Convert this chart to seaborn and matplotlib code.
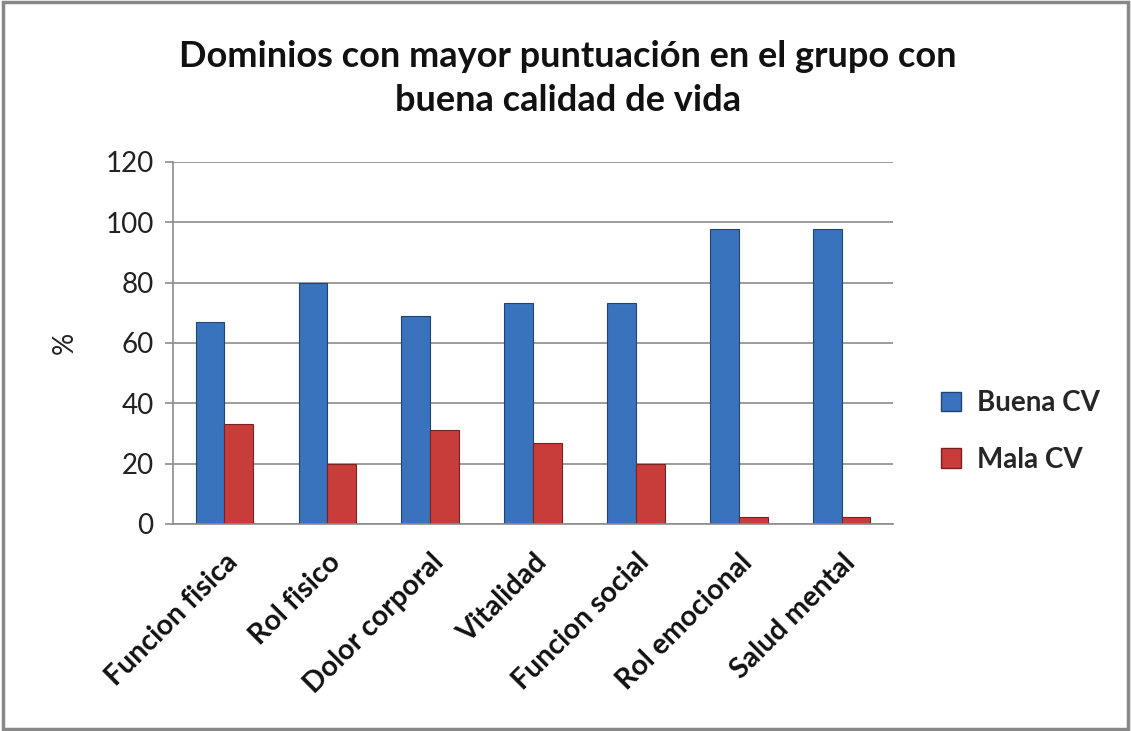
import matplotlib
matplotlib.use("Agg")
import matplotlib.pyplot as plt
import seaborn as sns
import pandas as pd
from matplotlib.patches import Rectangle

categories = ["Funcion fisica", "Rol fisico", "Dolor corporal", "Vitalidad",
              "Funcion social", "Rol emocional", "Salud mental"]
buena_cv = [67, 80, 69, 73.3, 73.3, 97.8, 97.8]
mala_cv = [33.3, 20, 31, 27, 20, 2.2, 2.2]
series_names = ["Buena CV", "Mala CV"]
y_ticks = [0, 20, 40, 60, 80, 100, 120]
title = "Dominios con mayor puntuación en el grupo con\nbuena calidad de vida"

df = pd.DataFrame({
    "Dominio": categories * 2,
    "Serie": [series_names[0]] * len(categories) + [series_names[1]] * len(categories),
    "Valor": buena_cv + mala_cv,
})

sns.set_theme(style="white")
plt.rcParams['font.family'] = ['Lato', 'DejaVu Sans']

fig = plt.figure(figsize=(11.31, 7.31), dpi=100)
ax = fig.add_axes([0.153, 0.2832, 0.6366, 0.4952])

palette = {"Buena CV": "#3a73bd", "Mala CV": "#c83c3a"}
edges = {"Buena CV": "#22446f", "Mala CV": "#7a2221"}
sns.barplot(data=df, x="Dominio", y="Valor", hue="Serie", palette=palette,
            width=0.56, gap=0, ax=ax, legend=False, saturation=1)
for cont, name in zip(ax.containers, series_names):
    for b in cont:
        b.set_edgecolor(edges[name])
        b.set_linewidth(0.8)

ax.set_ylim(0, 120)
ax.set_xlim(-0.5, len(categories) - 0.5)
ax.set_yticks(y_ticks)
ax.set_yticklabels([str(t) for t in y_ticks], fontsize=20, color="#222222")
ax.yaxis.grid(True, color="#8c8c8c", linewidth=1.2)
ax.set_axisbelow(True)
ax.tick_params(axis="y", left=True, length=6, width=1.2, color="#8c8c8c", pad=8)
ax.tick_params(axis="x", bottom=False, pad=12)
for s in ["top", "right"]:
    ax.spines[s].set_visible(False)
for s in ["left", "bottom"]:
    ax.spines[s].set_color("#8c8c8c")
    ax.spines[s].set_linewidth(1.2)
ax.set_xlabel("")
ax.set_ylabel("%", fontsize=20, labelpad=20, color="#222222")
ax.set_xticks(range(len(categories)))
ax.set_xticklabels(categories, rotation=45, ha="right", rotation_mode="anchor",
                   fontsize=20.5, fontweight="bold", color="#111111")

fig.text(0.502, 0.893, title, ha="center", va="center", fontsize=26,
         fontweight="bold", color="#111111", linespacing=1.42)

handles = [Rectangle((0, 0), 1, 1, facecolor=palette[n], edgecolor=edges[n]) for n in series_names]
fig.legend(handles, series_names, loc="center left", bbox_to_anchor=(0.81, 0.41),
           frameon=False, handlelength=0.7, handleheight=0.7,
           handletextpad=0.6, labelspacing=1.1, prop={"weight": "bold", "size": 20})

fig.patches.append(Rectangle((0.003, 0.003), 0.994, 0.994, transform=fig.transFigure,
                             fill=False, edgecolor="#888888", linewidth=2.5))

fig.savefig("out.png", dpi=100)
